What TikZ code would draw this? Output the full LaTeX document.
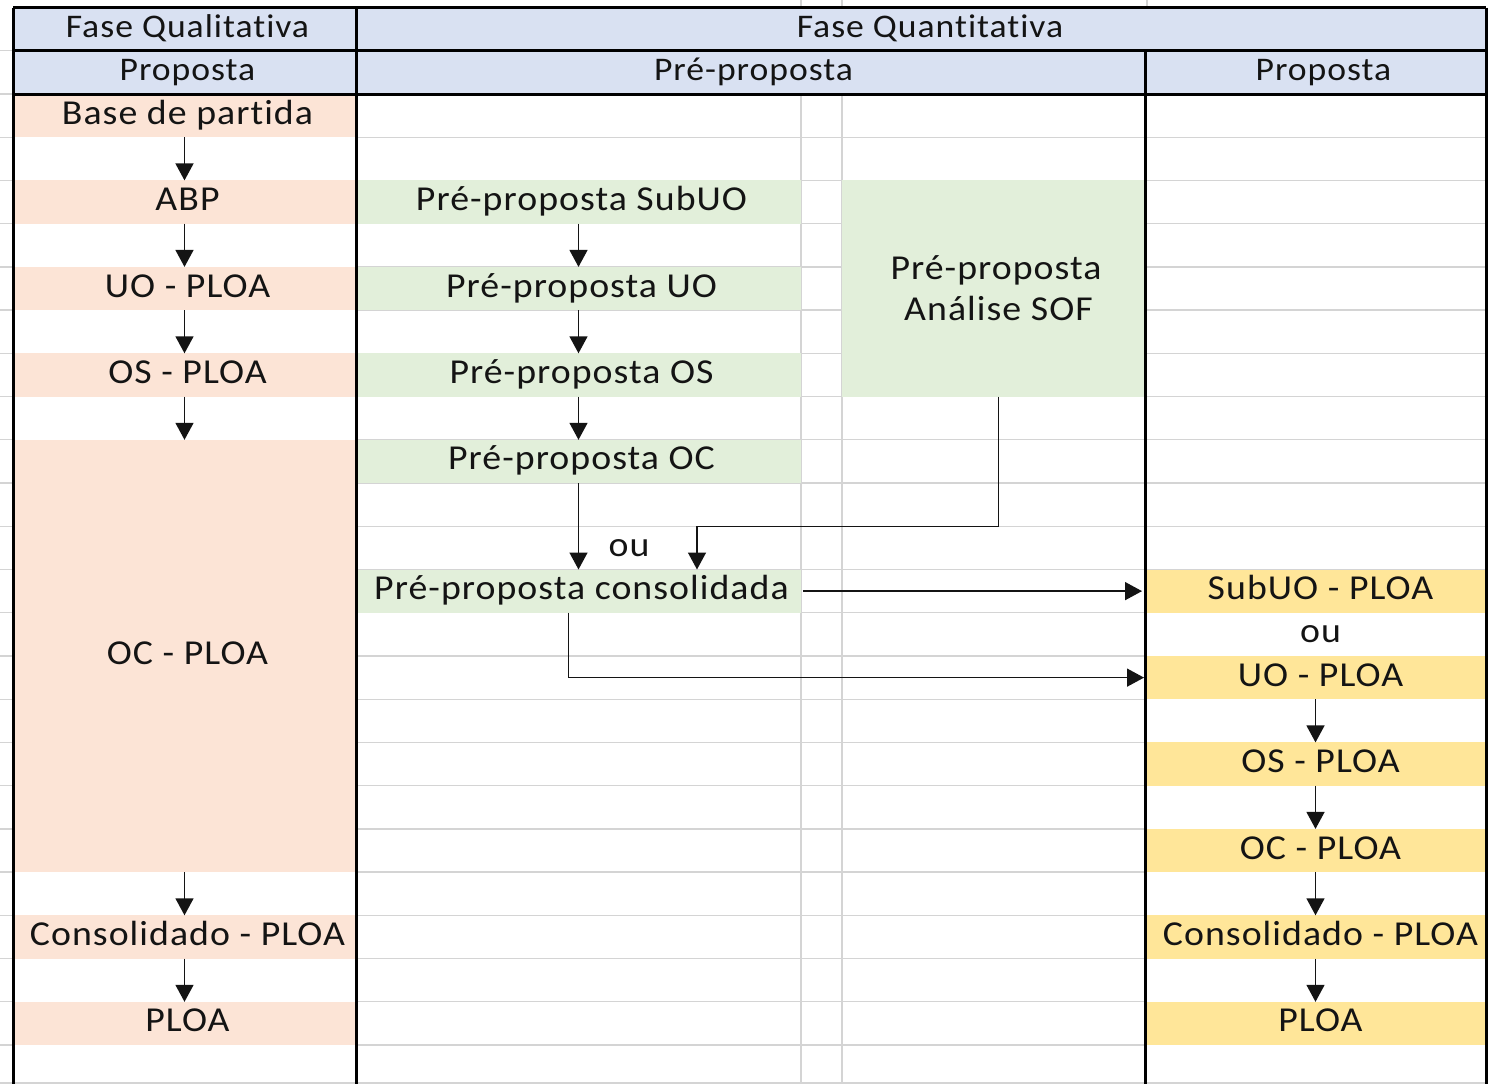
\documentclass[tikz,border=0pt]{standalone}
\usepackage{fontspec}
\setmainfont{Carlito}[FakeStretch=1.08,LetterSpace=3,Ligatures={NoCommon}]
\usetikzlibrary{arrows.meta}
\definecolor{hdr}{HTML}{D9E1F2}
\definecolor{sal}{HTML}{FCE4D6}
\definecolor{grn}{HTML}{E2EFDA}
\definecolor{yel}{HTML}{FFE699}
\definecolor{grd}{HTML}{D4D4D4}
\definecolor{txt}{HTML}{141414}
\tikzset{
  cellbase/.style={rectangle, inner sep=0pt, outer sep=0pt, minimum height=43.23pt, anchor=north west, text=txt, font=\fontsize{35}{41}\selectfont},
  plain/.style={cellbase, text height=24pt, text depth=7pt},
  cell/.style={plain, execute at begin node={\hspace*{6pt}}},
  rcell/.style={plain, execute at begin node={\hspace*{10pt}}},
  hcell/.style={cell, fill=hdr, font=\fontsize{33}{40}\selectfont},
  c1/.style={cell, minimum width=343pt},
  c2/.style={cell, minimum width=445pt},
  c3/.style={rcell, minimum width=341pt},
  gridline/.style={draw=grd, line width=1.3pt},
  border/.style={draw=black, line width=3pt},
  arr/.style={draw=txt, line width=1.5pt, -{Triangle[width=18pt,length=17pt]}},
  conn/.style={draw=txt, line width=1.5pt}
}
\begin{document}
\begin{tikzpicture}[x=1pt,y=-1pt]
\useasboundingbox (0,0) rectangle (1488,1084);
\fill[white] (0,0) rectangle (1488,1084);
% grid lines
\foreach \k in {3,...,24} \draw[gridline] (356,{7.5+43.23*\k}) -- (1145,{7.5+43.23*\k});
\foreach \k in {3,...,13} \draw[gridline] (1145,{7.5+43.23*\k}) -- (1486,{7.5+43.23*\k});
\foreach \k in {1,...,24} \draw[gridline] (0,{7.5+43.23*\k}) -- (13,{7.5+43.23*\k});
\draw[gridline] (801,0) -- (801,1084);
\draw[gridline] (842,0) -- (842,1084);
\draw[gridline] (1147,0) -- (1147,8);
\draw[gridline] (0,1083) -- (1488,1083);
% headers
\node[hcell, minimum width=343pt] (hq) at (13,7.5) {Fase Qualitativa};
\node[hcell, minimum width=1130pt, execute at begin node={\hspace*{12pt}}] (hn) at (356,7.5) {Fase Quantitativa};
\node[hcell, minimum width=343pt] (hp1) at (13,50.7) {Proposta};
\node[hcell, minimum width=789pt] (hpp) at (356,50.7) {Pré-proposta};
\node[hcell, minimum width=341pt, execute at begin node={\hspace*{10pt}}] (hp2) at (1145,50.7) {Proposta};
% left column
\node[c1, fill=sal] (base) at (13,94.0) {Base de partida};
\node[c1, fill=sal] (abp) at (13,180.4) {ABP};
\node[c1, fill=sal] (luo) at (13,266.9) {UO - PLOA};
\node[c1, fill=sal] (los) at (13,353.3) {OS - PLOA};
\node[c1, fill=sal, minimum height=432.3pt] (loc) at (13,439.8) {OC - PLOA};
\node[c1, fill=sal] (lcon) at (13,915.3) {Consolidado - PLOA};
\node[c1, fill=sal] (lploa) at (13,1001.8) {PLOA};
% middle column
\node[c2, fill=grn] (psub) at (356,180.4) {Pré-proposta SubUO};
\node[c2, fill=grn] (puo) at (356,266.9) {Pré-proposta UO};
\node[c2, fill=grn] (pos) at (356,353.3) {Pré-proposta OS};
\node[c2, fill=grn] (poc) at (356,439.8) {Pré-proposta OC};
\node[c2, fill=grn] (pcon) at (356,569.5) {Pré-proposta consolidada};
\node[plain, anchor=north] (ou1) at (629,526.3) {ou};
\node[cellbase, fill=grn, minimum width=303pt, minimum height=216.2pt, align=center, execute at begin node={\hspace*{5pt}}] (sof) at (842,180.4) {Pré-proposta\\\hspace*{5pt}Análise SOF};
% right column
\node[c3, fill=yel] (rsub) at (1145,569.5) {SubUO - PLOA};
\node[c3] (ou2) at (1145,612.7) {ou};
\node[c3, fill=yel] (ruo) at (1145,656.0) {UO - PLOA};
\node[c3, fill=yel] (ros) at (1145,742.4) {OS - PLOA};
\node[c3, fill=yel] (roc) at (1145,828.9) {OC - PLOA};
\node[c3, fill=yel] (rcon) at (1145,915.3) {Consolidado - PLOA};
\node[c3, fill=yel] (rploa) at (1145,1001.8) {PLOA};
% borders
\draw[border] (13,7.5) -- (1486,7.5);
\draw[border] (13,50.7) -- (1486,50.7);
\draw[border] (13,94.0) -- (1486,94.0);
\draw[border] (13,7.5) -- (13,1084);
\draw[border] (356,7.5) -- (356,1084);
\draw[border] (1486,7.5) -- (1486,1084);
\draw[border] (1145,50.7) -- (1145,1084);
% connectors left
\draw[arr] (base.south) -- (abp.north);
\draw[arr] (abp.south) -- (luo.north);
\draw[arr] (luo.south) -- (los.north);
\draw[arr] (los.south) -- (loc.north);
\draw[arr] (loc.south) -- (lcon.north);
\draw[arr] (lcon.south) -- (lploa.north);
% connectors middle
\draw[arr] (psub.south) -- (puo.north);
\draw[arr] (puo.south) -- (pos.north);
\draw[arr] (pos.south) -- (poc.north);
\draw[arr] (poc.south) -- (pcon.north);
\coordinate (j1) at (697,526.3);
\draw[conn] ([xshift=5pt]sof.south) |- (j1);
\draw[arr] (j1) -- (j1 |- pcon.north);
\draw[arr, shorten <=2pt, shorten >=3pt] (pcon.east) -- (rsub.west);
\draw[arr, shorten >=1pt] ([xshift=-10pt]pcon.south) |- (ruo.west);
% connectors right
\draw[arr] (ruo.south) -- (ros.north);
\draw[arr] (ros.south) -- (roc.north);
\draw[arr] (roc.south) -- (rcon.north);
\draw[arr] (rcon.south) -- (rploa.north);
\end{tikzpicture}
\end{document}
